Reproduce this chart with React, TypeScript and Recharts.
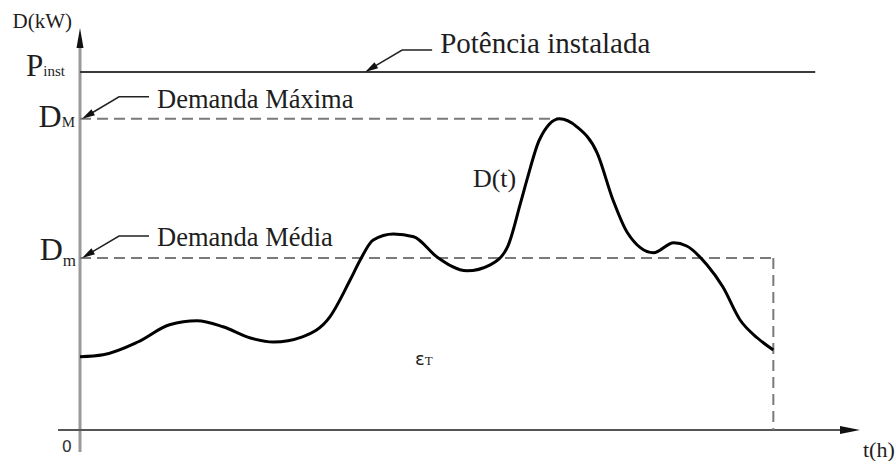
import React from "react";
import { LineChart, Line, XAxis, YAxis, ReferenceLine, ReferenceDot } from "recharts";

// time (h) and demand (kW, arbitrary units)
const hours = [0, 0.8, 2.0, 3.1, 4.05, 4.95, 5.9, 6.7, 7.7, 8.65, 9.35, 9.7, 10.15, 10.85, 11.55, 12.35, 13.4, 14.2, 14.8, 15.25, 15.5, 15.9, 16.6, 17.2, 17.9, 18.45, 18.95, 19.85, 20.55, 21.0, 21.7, 22.25, 22.85, 23.45, 24];
const demand = [18.3, 18.8, 22, 26.3, 27.3, 25.8, 23, 22, 23.3, 28.3, 37.5, 42.5, 47.5, 49, 48.3, 43.3, 39.8, 41.3, 45.8, 56.8, 63.3, 72.5, 77.8, 75.8, 69.3, 57.5, 49.3, 44.3, 46.8, 46, 41.3, 35.8, 27.5, 23, 20];

const P_INST = 89.5;
const D_MAX = 77.8;
const D_MED = 43;
const T_PEAK = 16.6;
const T_END = 24;
const T_INST_END = 25.45;
const T_AXIS_MAX = 27;

const yLevels = [0, D_MED, D_MAX, P_INST];
const yLabels = [
  { value: P_INST, main: "P", sub: "inst" },
  { value: D_MAX, main: "D", sub: "M" },
  { value: D_MED, main: "D", sub: "m" },
];

// leader annotations: tip point (t, v) and text
const callouts = [
  { text: "Potência instalada", t: 9.87, v: P_INST },
  { text: "Demanda Máxima", t: 0.07, v: D_MAX },
  { text: "Demanda Média", t: 0.07, v: D_MED },
];
const calloutTextDy = [3, 11, 10];

const chartData = hours.map((t, i) => ({ t, d: demand[i] }));

const serif = "'Liberation Serif', Tinos, 'DejaVu Serif', 'Noto Serif', 'Times New Roman', Times, serif";
const sans = "'DejaVu Sans', sans-serif";
const ink = "#1e1e1e";

const YTick = (props: any) => {
  const { x, y, payload } = props;
  const v = payload.value;
  if (v === 0) {
    return (
      <text x={x} y={y + 22} textAnchor="end" style={{ fontFamily: sans, fontSize: 16 }} fill="#333">
        0
      </text>
    );
  }
  const lab = yLabels.find((l) => l.value === v);
  if (!lab) return null;
  if (lab.sub === "inst") {
    return (
      <text x={x - 7} y={y + 4} textAnchor="end" style={{ fontFamily: serif }} fill={ink}>
        <tspan style={{ fontSize: 31 }}>{lab.main}</tspan>
        <tspan style={{ fontSize: 15 }}>{lab.sub}</tspan>
      </text>
    );
  }
  if (lab.sub === "M") {
    return (
      <text x={x + 3} y={y + 8} textAnchor="end" style={{ fontFamily: serif }} fill={ink}>
        <tspan style={{ fontSize: 32 }}>{lab.main}</tspan>
        <tspan style={{ fontSize: 15 }}>{lab.sub}</tspan>
      </text>
    );
  }
  return (
    <text x={x + 4} y={y + 2} textAnchor="end" style={{ fontFamily: serif }} fill={ink}>
      <tspan style={{ fontSize: 32 }}>{lab.main}</tspan>
      <tspan style={{ fontSize: 17 }} dy={6}>{lab.sub}</tspan>
    </text>
  );
};

const upArrowAxis = (p: any) => {
  const { x1, y1, x2, y2 } = p;
  return (
    <g>
      <line x1={x1} y1={y1} x2={x2} y2={y2 + 12} stroke="#999" strokeWidth={3} />
      <polygon points={`${x2},${y2} ${x2 - 3.5},${y2 + 20} ${x2 + 3.5},${y2 + 20}`} fill="#111" />
    </g>
  );
};

const rightArrowAxis = (p: any) => {
  const { x1, y1, x2, y2 } = p;
  return (
    <g>
      <line x1={x1} y1={y1} x2={x2 - 12} y2={y2} stroke="#555" strokeWidth={2} />
      <polygon points={`${x2},${y2} ${x2 - 20},${y2 - 4} ${x2 - 20},${y2 + 4}`} fill="#111" />
    </g>
  );
};

const calloutShape = (text: string, textDy: number) => (p: any) => {
  const { cx, cy } = p;
  const kx = cx + 37;
  const ky = cy - 22;
  const len = Math.hypot(37, 22);
  const ux = 37 / len;
  const uy = -22 / len;
  const bx = cx + ux * 13;
  const by = cy + uy * 13;
  const nx = -uy * 3.5;
  const ny = ux * 3.5;
  return (
    <g>
      <polyline points={`${cx + ux * 6},${cy + uy * 6} ${kx},${ky} ${kx + 30},${ky}`} fill="none" stroke="#222" strokeWidth={1.5} />
      <polygon points={`${cx},${cy} ${bx + nx},${by + ny} ${bx - nx},${by - ny}`} fill="#111" />
      <text
        x={kx + 38}
        y={ky + textDy}
        style={{ fontFamily: serif, fontSize: text.startsWith("Pot") ? 29 : 26.5 }}
        fill={ink}
      >
        {text}
      </text>
    </g>
  );
};

const textShape = (content: React.ReactNode, dx: number, dy: number, size: number, anchor: string = "start") => (p: any) => (
  <text x={p.cx + dx} y={p.cy + dy} textAnchor={anchor} style={{ fontFamily: serif, fontSize: size }} fill={ink}>
    {content}
  </text>
);

export default function App() {
  return (
    <div style={{ position: "absolute", left: 0, top: 0, background: "#fff" }}>
      <LineChart width={896} height={461} data={chartData} margin={{ top: 30, right: 36, bottom: 31, left: 0 }}>
        <XAxis type="number" dataKey="t" domain={[0, T_AXIS_MAX]} hide allowDataOverflow />
        <YAxis
          type="number"
          domain={[0, 100]}
          ticks={yLevels}
          interval={0}
          width={80}
          axisLine={false}
          tickLine={false}
          tick={YTick}
          allowDataOverflow
        />
        <ReferenceLine segment={[{ x: 0, y: -5.5 }, { x: 0, y: 100.5 }]} ifOverflow="visible" shape={upArrowAxis} />
        <ReferenceLine segment={[{ x: -0.76, y: 0 }, { x: T_AXIS_MAX, y: 0 }]} ifOverflow="visible" shape={rightArrowAxis} />
        <ReferenceLine segment={[{ x: 0, y: P_INST }, { x: T_INST_END, y: P_INST }]} ifOverflow="visible" stroke="#3a3a3a" strokeWidth={2} />
        <ReferenceLine segment={[{ x: 0, y: D_MAX }, { x: T_PEAK, y: D_MAX }]} ifOverflow="visible" stroke="#7a7a7a" strokeWidth={2} strokeDasharray="11 6" />
        <ReferenceLine segment={[{ x: 0, y: D_MED }, { x: T_END, y: D_MED }]} ifOverflow="visible" stroke="#7a7a7a" strokeWidth={2} strokeDasharray="11 6" />
        <ReferenceLine segment={[{ x: T_END, y: D_MED }, { x: T_END, y: 0 }]} ifOverflow="visible" stroke="#7a7a7a" strokeWidth={2} strokeDasharray="11 6" />
        {callouts.map((c, i) => (
          <ReferenceDot key={c.text} x={c.t} y={c.v} ifOverflow="visible" shape={calloutShape(c.text, calloutTextDy[i])} />
        ))}
        <ReferenceDot x={0} y={100.5} ifOverflow="visible" shape={textShape("D(kW)", -8, 0, 21, "end")} />
        <ReferenceDot x={T_AXIS_MAX} y={0} ifOverflow="visible" shape={textShape("t(h)", 3, 27, 22)} />
        <ReferenceDot x={13.6} y={60.75} ifOverflow="visible" shape={textShape("D(t)", 0, 0, 26)} />
        <ReferenceDot
          x={11.6}
          y={16.25}
          ifOverflow="visible"
          shape={textShape(
            <>
              <tspan style={{ fontFamily: sans, fontSize: 18 }}>ε</tspan>
              <tspan style={{ fontSize: 13 }}>T</tspan>
            </>,
            0,
            0,
            18
          )}
        />
        <Line type="monotone" dataKey="d" stroke="#000" strokeWidth={3} dot={false} isAnimationActive={false} />
      </LineChart>
    </div>
  );
}
